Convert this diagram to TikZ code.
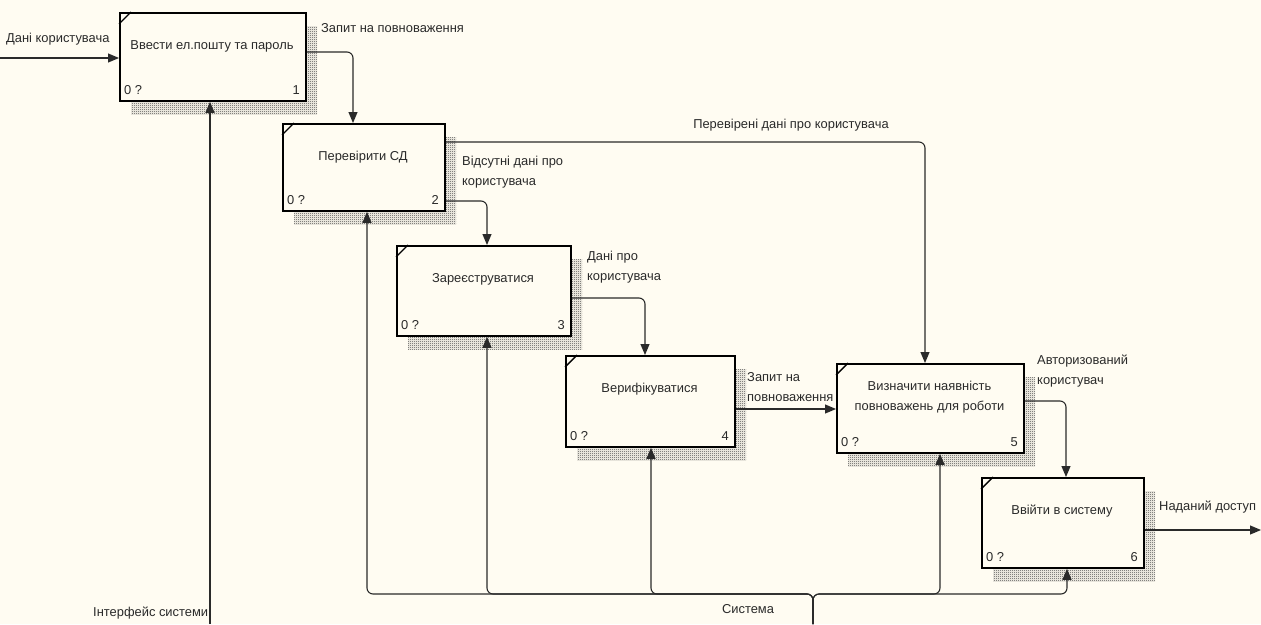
\documentclass[tikz,border=0pt]{standalone}
\usepackage{fontspec}
\setmainfont{Liberation Sans}
\usetikzlibrary{arrows.meta,patterns.meta}
\definecolor{bg}{HTML}{FFFCF2}
\definecolor{ink}{HTML}{2A2A2A}
\tikzdeclarepattern{
  name=checker, type=uncolored,
  bounding box={(0pt,0pt) and (2pt,2pt)},
  tile size={(2pt,2pt)},
  code={\pgfpathrectangle{\pgfpoint{0pt}{0pt}}{\pgfpoint{1pt}{1pt}}
        \pgfpathrectangle{\pgfpoint{1pt}{1pt}}{\pgfpoint{1pt}{1pt}}
        \pgfusepath{fill}}
}
\tikzset{
  proc/.style={draw=black, line width=1.8pt, fill=bg, inner sep=0pt, anchor=north west},
  shadowpat/.style={pattern=checker, pattern color=black!75},
  lbl/.style={text=ink, inner sep=0pt, font=\fontsize{12.9}{20.5}\selectfont},
  flow/.style={draw=ink, line width=1.1pt, rounded corners=6pt, -{Triangle[length=11pt,width=9pt]}},
  tick/.style={draw=black, line width=1.4pt}
}
\newcommand{\procbox}[8]{%
  \begin{scope}[shift={(12,14)}]
    \fill[shadowpat] (#2,#3) rectangle (#4,#5);
  \end{scope}
  \node[proc, minimum width=#4-#2, minimum height=#5-#3] (#1) at (#2,#3) {};
  \draw[tick] (#2,#3+12) -- (#2+12,#3);
  \node[lbl, align=center] (#1t) at ({(#2+#4)/2},#3+34) {#6};
  \node[lbl, anchor=west] (#1q) at (#2+5,#5-10) {0 ?};
  \node[lbl, anchor=east] (#1n) at (#4-5,#5-10) {#7};
}
\begin{document}
\begin{tikzpicture}[x=1pt,y=-1pt]
\useasboundingbox (0,0) rectangle (1261,624);
\fill[bg] (0,0) rectangle (1261,624);

\procbox{b1}{119}{12}{305}{100}{Ввести ел.пошту та пароль}{1}{}
\procbox{b2}{282}{123}{444}{210}{Перевірити СД}{2}{}
\procbox{b3}{396}{245}{570}{335}{Зареєструватися}{3}{}
\procbox{b4}{565}{355}{734}{446}{Верифікуватися}{4}{}
\procbox{b5}{836}{363}{1023}{452}{Визначити наявність\\повноважень для роботи}{5}{}
\procbox{b6}{981}{477}{1143}{567}{Ввійти в систему}{6}{}

% external points
\coordinate (inL) at (0,58);
\coordinate (ifc) at (210,624);
\coordinate (sys) at (813,624);
\coordinate (outR) at (1261,530);

% arrows
\draw[flow] (inL) -- (b1.west |- 0,58);
\draw[flow] (ifc) -- (b1.south -| 210,0);
\draw[flow] (b1.east |- 0,52) -| (b2.north -| 353,0);
\draw[flow] (b2.east |- 0,142) -| (b5.north -| 925,0);
\draw[flow] (b2.east |- 0,201) -| (b3.north -| 487,0);
\draw[flow] (b3.east |- 0,298) -| (b4.north -| 645,0);
\draw[flow] (b4.east |- 0,409) -- (b5.west |- 0,409);
\draw[flow] (b5.east |- 0,401) -| (b6.north -| 1066,0);
\draw[flow] (b6.east |- 0,530) -- (outR);

\draw[flow] (sys) -- (813,594) -- (367,594) -- (b2.south -| 367,0);
\draw[flow] (sys) -- (813,594) -- (487,594) -- (b3.south -| 487,0);
\draw[flow] (sys) -- (813,594) -- (651,594) -- (b4.south -| 651,0);
\draw[flow] (sys) -- (813,594) -- (940,594) -- (b5.south -| 940,0);
\draw[flow] (sys) -- (813,594) -- (1067,594) -- (b6.south -| 1067,0);

% labels
\node[lbl, anchor=west] (l1) at (6,39) {Дані користувача};
\node[lbl, anchor=west] (l2) at (321,28) {Запит на повноваження};
\node[lbl] (l3) at (791,125) {Перевірені дані про користувача};
\node[lbl, anchor=west, align=left] (l4) at (462,172) {Відсутні дані про\\користувача};
\node[lbl, anchor=west, align=left] (l5) at (587,267) {Дані про\\користувача};
\node[lbl, anchor=west, align=left] (l6) at (747,387) {Запит на\\повноваження};
\node[lbl, anchor=west, align=left] (l7) at (1037,371) {Авторизований\\користувач};
\node[lbl, anchor=west] (l8) at (1159,507) {Наданий доступ};
\node[lbl, anchor=west] (l9) at (93,613) {Інтерфейс системи};
\node[lbl] (l10) at (748,609) {Система};
\end{tikzpicture}
\end{document}
